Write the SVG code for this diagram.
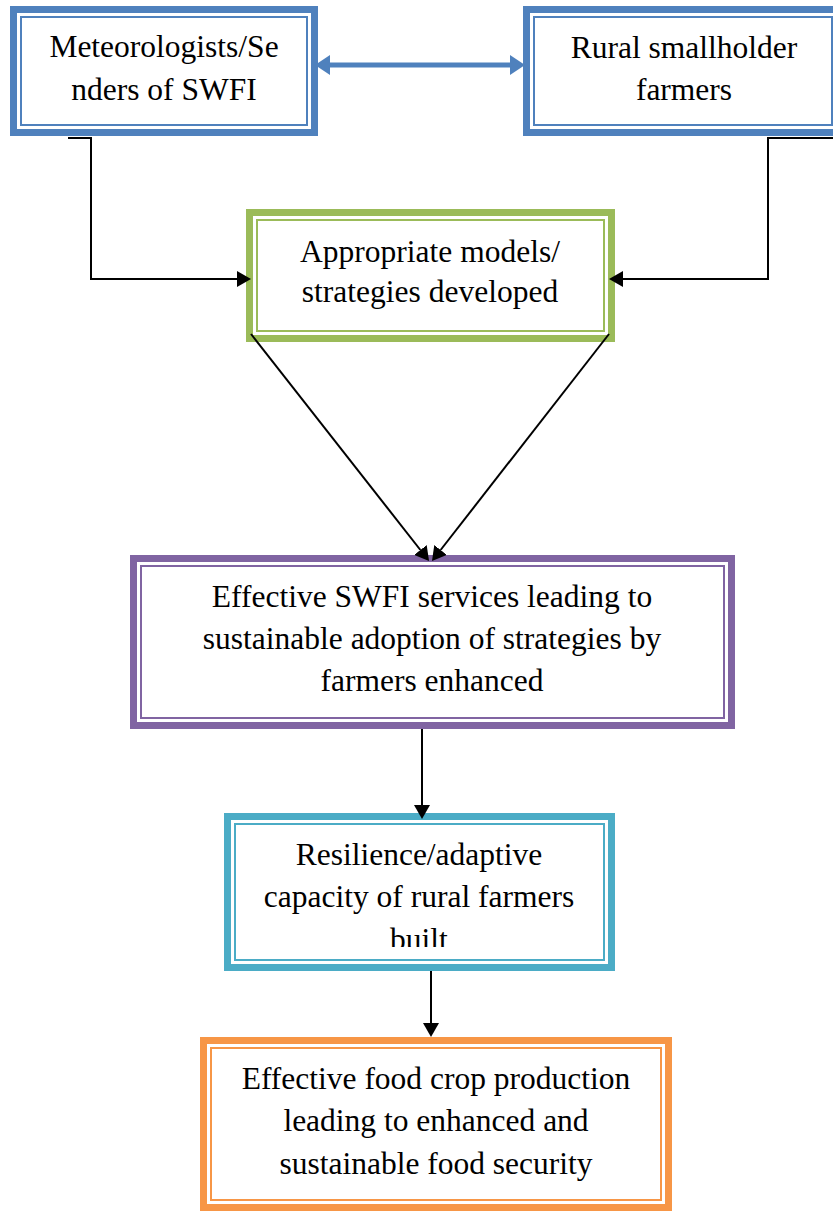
<svg xmlns="http://www.w3.org/2000/svg" width="833" height="1211" viewBox="0 0 833 1211">
  <style>
    .thick { fill: none; stroke-width: 7; }
    .thin { fill: none; stroke-width: 2; }
    .blue { stroke: #4F81BD; }
    .green { stroke: #9BBB59; }
    .purple { stroke: #8064A2; }
    .teal { stroke: #4BACC6; }
    .orange { stroke: #F79646; }
    .bg { fill: #FFFFFF; stroke: none; }
    text { font-family: "Liberation Serif", "Times New Roman", serif; font-size: 31.5px; fill: #000000; text-anchor: middle; }
    .conn { fill: none; stroke: #000000; stroke-width: 2; }
    .dbl { fill: none; stroke: #4F81BD; stroke-width: 5; }
  </style>
  <defs>
    <marker id="arrow" viewBox="0 0 14 16" refX="0" refY="8" markerWidth="14" markerHeight="16" markerUnits="userSpaceOnUse" orient="auto">
      <path d="M0,0 L14,8 L0,16 z" fill="#000000"/>
    </marker>
    <marker id="barrow" viewBox="0 0 15 20" refX="0" refY="10" markerWidth="15" markerHeight="20" markerUnits="userSpaceOnUse" orient="auto-start-reverse">
      <path d="M0,0 L15,10 L0,20 z" fill="#4F81BD"/>
    </marker>
    <clipPath id="clip5">
      <rect x="224" y="813" width="391" height="134"/>
    </clipPath>
  </defs>

  <rect class="bg" x="0" y="0" width="833" height="1211"/>

  <g id="node-meteorologists">
    <rect class="thick blue" x="13.5" y="9.5" width="301" height="123"/>
    <rect class="thin blue" x="21" y="17" width="286" height="108"/>
    <text x="164" y="57">Meteorologists/Se</text>
    <text x="164" y="100">nders of SWFI</text>
  </g>

  <g id="node-farmers">
    <rect class="thick blue" x="526.5" y="9.5" width="313" height="123"/>
    <rect class="thin blue" x="534" y="17" width="298" height="108"/>
    <text x="684" y="58">Rural smallholder</text>
    <text x="684" y="100">farmers</text>
  </g>

  <g id="node-models">
    <rect class="thick green" x="249.5" y="212.5" width="362" height="126"/>
    <rect class="thin green" x="257" y="220" width="347" height="111"/>
    <text x="430" y="262">Appropriate models/</text>
    <text x="430" y="302">strategies developed</text>
  </g>

  <g id="node-services">
    <rect class="thick purple" x="133.5" y="558.5" width="598" height="167"/>
    <rect class="thin purple" x="141" y="566" width="583" height="152"/>
    <text x="432" y="607">Effective SWFI services leading to</text>
    <text x="432" y="649">sustainable adoption of strategies by</text>
    <text x="432" y="691">farmers enhanced</text>
  </g>

  <g id="node-resilience">
    <rect class="thick teal" x="227.5" y="816.5" width="384" height="151"/>
    <rect class="thin teal" x="235" y="824" width="369" height="136"/>
    <g clip-path="url(#clip5)">
      <text x="419" y="865">Resilience/adaptive</text>
      <text x="419" y="907">capacity of rural farmers</text>
      <text x="419" y="950">built</text>
    </g>
  </g>

  <g id="node-food">
    <rect class="thick orange" x="203.5" y="1040.5" width="465" height="167"/>
    <rect class="thin orange" x="211" y="1048" width="450" height="152"/>
    <text x="436" y="1089">Effective food crop production</text>
    <text x="436" y="1131">leading to enhanced and</text>
    <text x="436" y="1174">sustainable food security</text>
  </g>

  <g id="connectors">
    <path class="dbl" d="M330,65 H510" marker-start="url(#barrow)" marker-end="url(#barrow)"/>
    <path class="conn" d="M68,138 H91 V279 H237" marker-end="url(#arrow)"/>
    <path class="conn" d="M840,138 H768 V279 H623" marker-end="url(#arrow)"/>
    <path class="conn" d="M251,334 L420.4,550" marker-end="url(#arrow)"/>
    <path class="conn" d="M609,334 L440.6,550" marker-end="url(#arrow)"/>
    <path class="conn" d="M422,729 V805" marker-end="url(#arrow)"/>
    <path class="conn" d="M431,971 V1023" marker-end="url(#arrow)"/>
  </g>
</svg>
